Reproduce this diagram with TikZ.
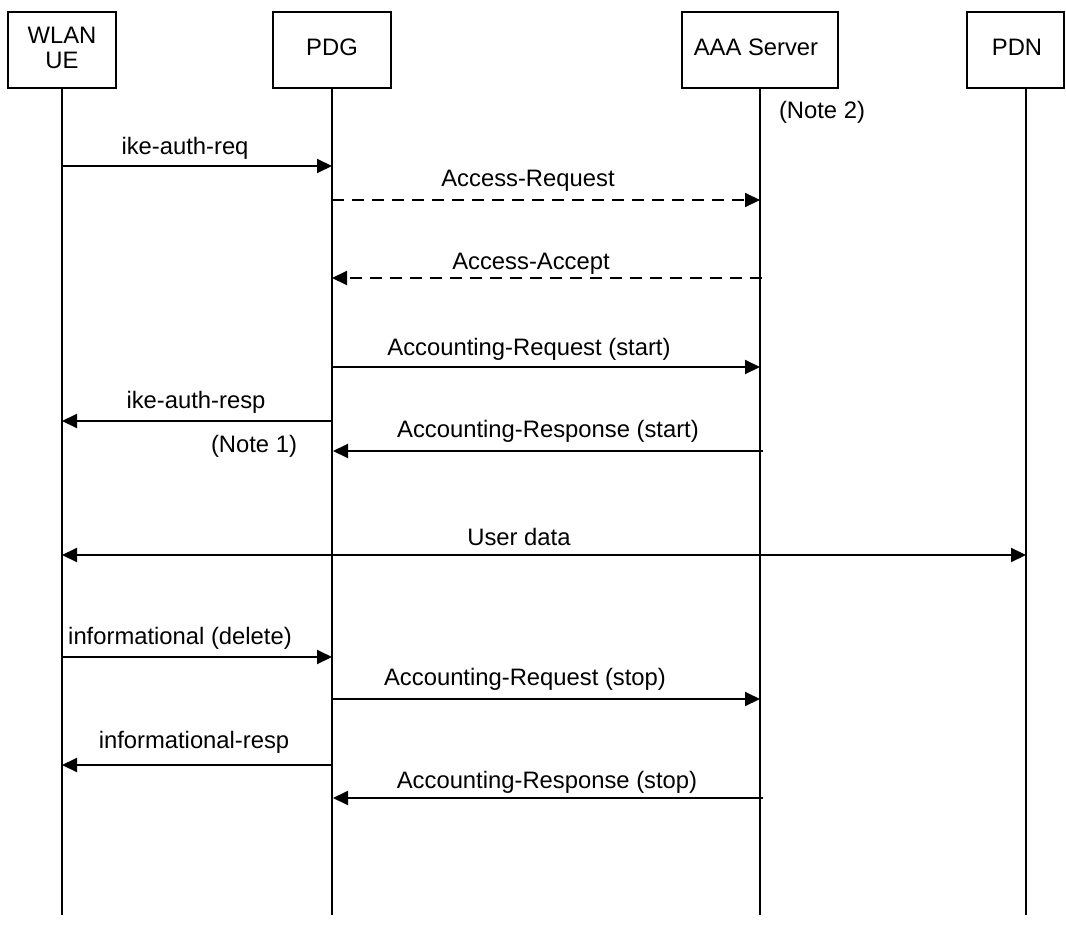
\documentclass[tikz,border=0pt]{standalone}
\usepackage{fontspec}
\setmainfont{Liberation Sans}
\usetikzlibrary{arrows.meta}
\begin{document}
\begin{tikzpicture}[x=1pt,y=-1pt,
  every node/.style={font=\fontsize{23.8}{25}\selectfont, inner sep=0pt, outer sep=0pt},
  actor/.style={draw, line width=1.5pt, minimum width=#1, minimum height=76pt},
  boxtext/.style={anchor=base},
  life/.style={line width=1.5pt},
  msg/.style={line width=2pt, -{Triangle[length=15pt,width=14pt]}},
  dmsg/.style={msg, dash pattern=on 12pt off 8pt},
  bmsg/.style={line width=2pt, {Triangle[length=15pt,width=14pt]}-{Triangle[length=15pt,width=14pt]}},
  lbl/.style={anchor=base}
]
\useasboundingbox (0,0) rectangle (1066,926);
\fill[white] (0,0) rectangle (1066,926);

% actors
\node[actor=108pt] (ue) at (62,50) {};
\node[boxtext] (uet1) at (62,43) {WLAN};
\node[boxtext] (uet2) at (62,68) {UE};
\node[actor=118pt] (pdg) at (332,50) {};
\node[boxtext] (pdgt) at (332,55) {PDG};
\node[actor=156pt] (aaa) at (760,50) {};
\node[boxtext] (aaat) at (756,55) {AAA Server};
\node[actor=97pt] (pdn) at (1015.5,50) {};
\node[boxtext] (pdnt) at (1017,55) {PDN};

% lifelines
\coordinate (ueB) at (62,915);
\coordinate (pdgB) at (332,915);
\coordinate (aaaB) at (760,915);
\coordinate (pdnT) at (1026,88);
\coordinate (pdnB) at (1026,915);
\draw[life] (ue.south) -- (ueB);
\draw[life] (pdg.south) -- (pdgB);
\draw[life] (aaa.south) -- (aaaB);
\draw[life] (pdnT) -- (pdnB);

% message end points
\coordinate (u1) at (62,166);   \coordinate (p1) at (332,166);
\coordinate (p2) at (332,200);  \coordinate (a2) at (760,200);
\coordinate (a3) at (762,278);  \coordinate (p3) at (332,278);
\coordinate (p4) at (332,367);  \coordinate (a4) at (760,367);
\coordinate (p5) at (332,421);  \coordinate (u5) at (62,421);
\coordinate (a6) at (763,451);  \coordinate (p6) at (333,451);
\coordinate (u7) at (62,555);   \coordinate (n7) at (1026,555);
\coordinate (u8) at (62,657);   \coordinate (p8) at (332,657);
\coordinate (p9) at (332,699);  \coordinate (a9) at (760,699);
\coordinate (p10) at (332,765); \coordinate (u10) at (62,765);
\coordinate (a11) at (763,798); \coordinate (p11) at (333,798);

% messages
\draw[msg] (u1) -- (p1);
\draw[dmsg] (p2) -- (a2);
\draw[dmsg] (a3) -- (p3);
\draw[msg] (p4) -- (a4);
\draw[msg] (p5) -- (u5);
\draw[msg] (a6) -- (p6);
\draw[bmsg] (u7) -- (n7);
\draw[msg] (u8) -- (p8);
\draw[msg] (p9) -- (a9);
\draw[msg] (p10) -- (u10);
\draw[msg] (a11) -- (p11);

% labels
\node[lbl] (l1) at (185,154) {ike-auth-req};
\node[lbl] (l2) at (528,186) {Access-Request};
\node[lbl] (l3) at (531,269) {Access-Accept};
\node[lbl] (l4) at (529,355) {Accounting-Request (start)};
\node[lbl] (l5) at (196,408) {ike-auth-resp};
\node[lbl] (n1) at (254,452) {(Note 1)};
\node[lbl] (l6) at (548,437) {Accounting-Response (start)};
\node[lbl] (l7) at (519,545) {User data};
\node[lbl] (l8) at (180,644) {informational (delete)};
\node[lbl] (l9) at (525,685) {Accounting-Request (stop)};
\node[lbl] (l10) at (194,748) {informational-resp};
\node[lbl] (l11) at (547,788) {Accounting-Response (stop)};
\node[lbl] (n2) at (822,118) {(Note 2)};
\end{tikzpicture}
\end{document}
